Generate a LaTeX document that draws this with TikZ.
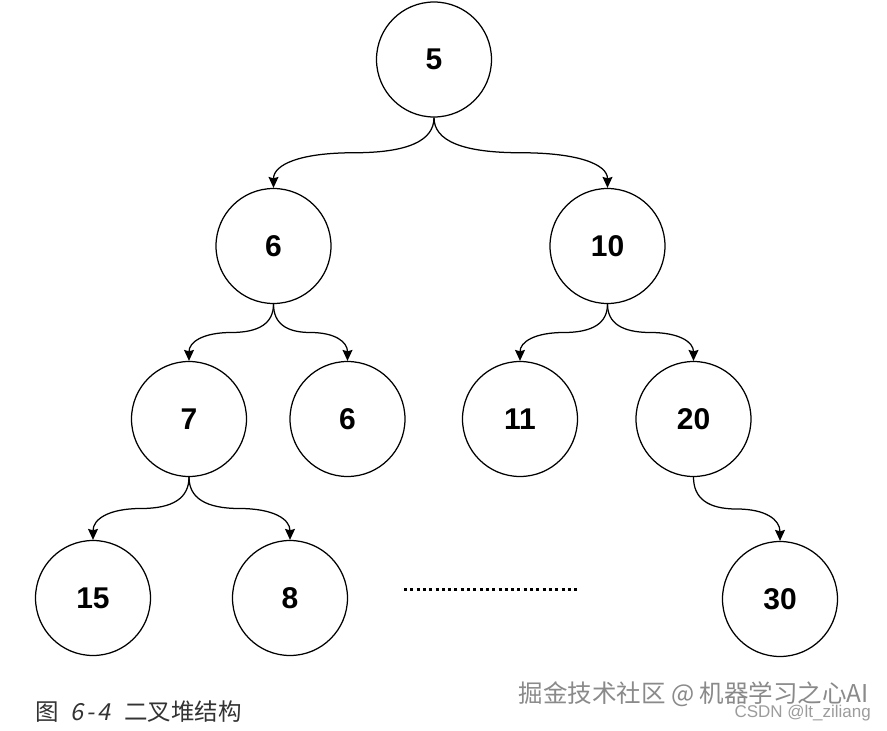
\documentclass[tikz,border=0pt]{standalone}
\usepackage{fontspec}
\setmainfont{Liberation Sans}
\newfontfamily\cjk{Noto Sans CJK SC}
\newfontfamily\cjkslant[FakeSlant=0.2]{Noto Sans CJK SC}
\usetikzlibrary{arrows.meta,calc}
\definecolor{capgray}{HTML}{333333}
\definecolor{wmgray}{HTML}{8A8A8A}
\tikzset{
  heap/.style={circle, draw=black, line width=1.25pt, minimum size=115pt, inner sep=0pt,
    font=\fontsize{30}{32}\selectfont\bfseries},
  link/.style={draw=black, line width=1.25pt,
    -{Stealth[length=11pt,width=10pt,inset=1.5pt]},
    to path={let \p1=(\tikztostart), \p2=(\tikztotarget) in
      .. controls (\x1,{(2*(\y1)+(\y2))/3}) and ({(5*(\x1)+(\x2))/6},{((\y1)+(\y2))/2})
      .. ({((\x1)+(\x2))/2},{((\y1)+(\y2))/2})
      .. controls ({((\x1)+5*(\x2))/6},{((\y1)+(\y2))/2}) and (\x2,{((\y1)+2*(\y2))/3})
      .. (\tikztotarget)}},
  dots/.style={line width=3pt, dash pattern=on 3pt off 3.3pt, black}
}
\begin{document}
\begin{tikzpicture}[x=1pt,y=-1pt]
\useasboundingbox[fill=white] (0,0) rectangle (887,731);
% nodes
\node[heap] (n5)  at (434,59.5) {5};
\node[heap] (n6)  at (273.5,246) {6};
\node[heap] (n10) at (607.5,246) {10};
\node[heap] (n7)  at (189,419) {7};
\node[heap] (n6b) at (347.5,419) {6};
\node[heap] (n11) at (520,419) {11};
\node[heap] (n20) at (693.5,419) {20};
\node[heap] (n15) at (93,598) {15};
\node[heap] (n8)  at (290,598) {8};
\node[heap] (n30) at (780,599) {30};
% edges
\draw[link] (n5.south) to (n6.north);
\draw[link] (n5.south) to (n10.north);
\draw[link] (n6.south) to (n7.north);
\draw[link] (n6.south) to (n6b.north);
\draw[link] (n10.south) to (n11.north);
\draw[link] (n10.south) to (n20.north);
\draw[link] (n7.south) to (n15.north);
\draw[link] (n7.south) to (n8.north);
\draw[link] (n20.south) to (n30.north);
% ellipsis
\coordinate (d1) at (404,589);
\coordinate (d2) at (580,589);
\draw[dots] (d1) -- (d2);
% caption
\node[anchor=west, text=capgray, inner sep=0pt, font=\fontsize{23.5}{25}\selectfont] (cap) at (35,712)
  {\cjk 图\hspace{0.5em}{\cjkslant 6\kern0.12em-\kern0.12em4}\hspace{0.6em}二叉堆结构};
% watermark
\node[anchor=east, text=wmgray, inner sep=0pt, font=\fontsize{24.5}{26}\selectfont] (wm1) at (869,694)
  {\cjk 掘金技术社区 @ 机器学习之心AI};
\node[anchor=east, text=wmgray!85, inner sep=0pt, font=\fontsize{17}{19}\selectfont] (wm2) at (871,713)
  {CSDN @lt\_ziliang};
\end{tikzpicture}
\end{document}
